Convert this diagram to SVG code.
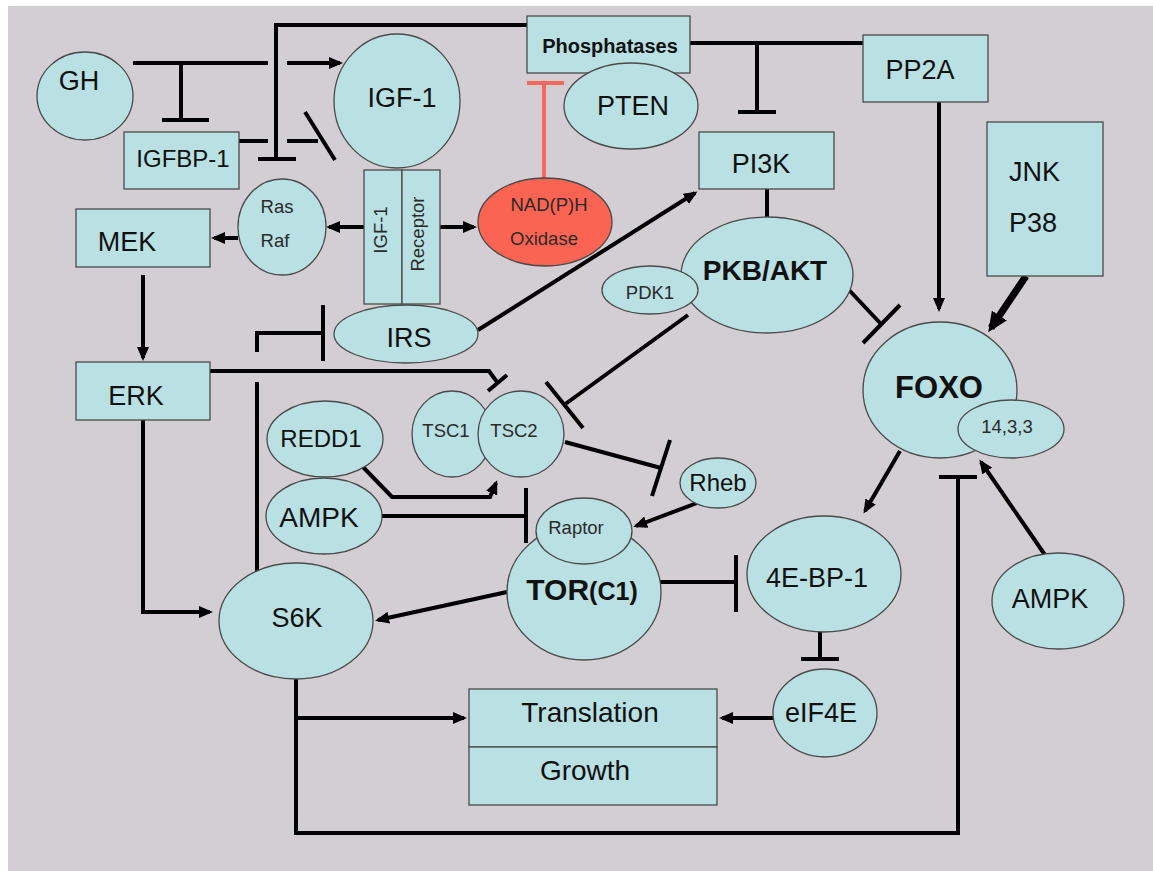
<svg xmlns="http://www.w3.org/2000/svg" width="1153" height="871" viewBox="0 0 1153 871">
<style>
.n{fill:#b9e0e3;stroke:#4a4a4a;stroke-width:1.3}
.red{fill:#fb6352;stroke:#4a4a4a;stroke-width:1.3}
.t{font-family:"Liberation Sans",Arial,sans-serif;fill:#111;text-anchor:middle}
.s{font-family:"Liberation Sans",Arial,sans-serif;fill:#2a2a2a;text-anchor:middle;font-size:18.5px}
.b{font-weight:bold}
.c{fill:none;stroke:#000;stroke-width:4}
.cr{fill:none;stroke:#f4695c;stroke-width:4}
.a{marker-end:url(#arr)}
</style>
<defs>
<marker id="arr" viewBox="0 0 14 12" refX="11" refY="6" markerWidth="14" markerHeight="12" markerUnits="userSpaceOnUse" orient="auto"><path d="M0,0 L14,6 L0,12 z" fill="#000"/></marker>
<marker id="arrBig" viewBox="0 0 20 18" refX="15" refY="9" markerWidth="20" markerHeight="18" markerUnits="userSpaceOnUse" orient="auto"><path d="M0,0 L20,9 L0,18 z" fill="#000"/></marker>
</defs>
<rect x="0" y="0" width="1153" height="871" fill="#fff"/>
<rect x="8" y="6" width="1145" height="865" fill="#d3ced3"/>

<g id="connectors">
<line class="c" x1="133" y1="63" x2="268" y2="63"/>
<line class="c a" x1="287" y1="63" x2="340" y2="63"/>
<line class="c" x1="181" y1="63" x2="181" y2="120"/>
<line class="c" x1="162" y1="120" x2="209" y2="120"/>
<line class="c" x1="239" y1="141" x2="268" y2="141"/>
<line class="c" x1="287" y1="141" x2="318" y2="141"/>
<line class="c" x1="305" y1="112" x2="335" y2="160"/>
<path class="c" d="M527,25 H276 V159"/>
<line class="c" x1="258" y1="159" x2="296" y2="159"/>
<line class="cr" x1="544" y1="178" x2="544" y2="83"/>
<line class="cr" x1="527" y1="83" x2="564" y2="83"/>
<line class="c a" x1="364" y1="227" x2="329" y2="227"/>
<line class="c a" x1="440" y1="227" x2="474" y2="227"/>
<line class="c a" x1="238" y1="238" x2="214" y2="238"/>
<line class="c a" x1="143" y1="275" x2="143" y2="358"/>
<path class="c" d="M210,371 H489 L497,382"/>
<line class="c" x1="488" y1="391" x2="507" y2="375"/>
<line class="c" x1="257" y1="573" x2="257" y2="382"/>
<path class="c" d="M257,352 V333 H323"/>
<line class="c" x1="323" y1="305" x2="323" y2="361"/>
<line class="c a" x1="478" y1="330" x2="695" y2="193"/>
<line class="c" x1="690" y1="43" x2="863" y2="43"/>
<line class="c" x1="757" y1="43" x2="757" y2="112"/>
<line class="c" x1="738" y1="112" x2="776" y2="112"/>
<line class="c a" x1="939" y1="102" x2="939" y2="309"/>
<line class="c" style="stroke-width:7;marker-end:url(#arrBig)" x1="1026" y1="276" x2="991" y2="328"/>
<line class="c" x1="767" y1="189" x2="767" y2="218"/>
<line class="c" x1="849" y1="290" x2="881" y2="324"/>
<line class="c" x1="863" y1="343" x2="900" y2="305"/>
<line class="c" x1="688" y1="315" x2="564" y2="405"/>
<line class="c" x1="546" y1="382" x2="583" y2="428"/>
<line class="c" x1="565" y1="442" x2="661" y2="468"/>
<line class="c" x1="670" y1="440" x2="652" y2="496"/>
<line class="c a" x1="697" y1="503" x2="636" y2="526"/>
<path class="c a" d="M363,467 L392,497 H490 L496,483"/>
<line class="c" x1="382" y1="516" x2="526" y2="516"/>
<line class="c" x1="526" y1="488" x2="526" y2="543"/>
<line class="c" x1="660" y1="582" x2="736" y2="582"/>
<line class="c" x1="736" y1="555" x2="736" y2="612"/>
<line class="c a" x1="507" y1="592" x2="378" y2="620"/>
<path class="c a" d="M143,420 V612 H210"/>
<line class="c a" x1="296" y1="718" x2="464" y2="718"/>
<path class="c" d="M296,679 V833 H958 V477"/>
<line class="c" x1="939" y1="477" x2="977" y2="477"/>
<line class="c" x1="820" y1="632" x2="820" y2="659"/>
<line class="c" x1="801" y1="659" x2="839" y2="659"/>
<line class="c a" x1="773" y1="718" x2="722" y2="718"/>
<line class="c a" x1="900" y1="451" x2="865" y2="511"/>
<line class="c a" x1="1045" y1="555" x2="981" y2="462"/>
</g>

<g id="GH"><ellipse class="n" cx="85" cy="96" rx="48" ry="44"/><text class="t" x="79" y="90" font-size="27">GH</text></g>
<g id="IGFBP-1"><rect class="n" x="124" y="132" width="115" height="57"/><text class="t" x="183" y="167" font-size="24">IGFBP-1</text></g>
<g id="IGF-1"><ellipse class="n" cx="397" cy="101" rx="63" ry="67"/><text class="t" x="402" y="107" font-size="27">IGF-1</text></g>
<g id="Phosphatases"><rect class="n" x="527" y="16" width="163" height="57"/><text class="t b" x="610" y="53" font-size="20">Phosphatases</text></g>
<g id="PTEN"><ellipse class="n" cx="631" cy="106" rx="67" ry="43"/><text class="t" x="633" y="115" font-size="27">PTEN</text></g>
<g id="NADPH-Oxidase"><ellipse class="red" cx="545" cy="222" rx="67" ry="44"/><text class="s" x="549" y="211" font-size="19">NAD(P)H</text><text class="s" x="544" y="245" font-size="19">Oxidase</text></g>
<g id="IGF-1-Receptor"><rect class="n" x="364" y="170" width="38" height="134"/><rect class="n" x="402" y="170" width="38" height="134"/><text class="s" transform="translate(387,230) rotate(-90)">IGF-1</text><text class="s" transform="translate(424,234) rotate(-90)">Receptor</text></g>
<g id="RasRaf"><ellipse class="n" cx="282" cy="227" rx="44" ry="48"/><text class="s" x="277" y="213" font-size="19">Ras</text><text class="s" x="275" y="247" font-size="19">Raf</text></g>
<g id="MEK"><rect class="n" x="76" y="209" width="134" height="58"/><text class="t" x="127" y="251" font-size="27">MEK</text></g>
<g id="ERK"><rect class="n" x="76" y="362" width="134" height="58"/><text class="t" x="136" y="405" font-size="27">ERK</text></g>
<g id="IRS"><ellipse class="n" cx="406" cy="334" rx="72" ry="29"/><text class="t" x="409" y="347" font-size="27">IRS</text></g>
<g id="PI3K"><rect class="n" x="699" y="132" width="135" height="57"/><text class="t" x="761" y="173" font-size="27">PI3K</text></g>
<g id="PP2A"><rect class="n" x="863" y="35" width="125" height="67"/><text class="t" x="920" y="79" font-size="27">PP2A</text></g>
<g id="JNK-P38"><rect class="n" x="987" y="122" width="116" height="154"/><text class="t" x="1009" y="181" font-size="27" style="text-anchor:start">JNK</text><text class="t" x="1009" y="232" font-size="27" style="text-anchor:start">P38</text></g>
<g id="PKB-AKT"><ellipse class="n" cx="767" cy="275" rx="86" ry="58"/><text class="t b" x="765" y="280" font-size="28">PKB/AKT</text></g>
<g id="PDK1"><ellipse class="n" cx="650" cy="290" rx="48" ry="24"/><text class="s" x="650" y="299">PDK1</text></g>
<g id="FOXO"><ellipse class="n" cx="940" cy="390" rx="77" ry="68"/><text class="t b" x="939" y="398" font-size="31">FOXO</text></g>
<g id="p14-3-3"><ellipse class="n" cx="1011" cy="429" rx="53" ry="29"/><text class="s" x="1007" y="433">14,3,3</text></g>
<g id="TSC1"><ellipse class="n" cx="452" cy="434" rx="40" ry="43"/><text class="s" x="446" y="437">TSC1</text></g>
<g id="TSC2"><ellipse class="n" cx="521" cy="434" rx="43" ry="43"/><text class="s" x="514" y="437">TSC2</text></g>
<g id="REDD1"><ellipse class="n" cx="325" cy="439" rx="58" ry="38"/><text class="t" x="321" y="447" font-size="24">REDD1</text></g>
<g id="AMPK-left"><ellipse class="n" cx="324" cy="516" rx="58" ry="38"/><text class="t" x="319" y="527" font-size="28">AMPK</text></g>
<g id="Rheb"><ellipse class="n" cx="718" cy="483" rx="38" ry="25"/><text class="t" x="718" y="491" font-size="24">Rheb</text></g>
<g id="TOR"><ellipse class="n" cx="584" cy="592" rx="77" ry="68"/><text class="t b" x="582" y="600"><tspan font-size="30">TOR</tspan><tspan font-size="25">(C1)</tspan></text></g>
<g id="Raptor"><ellipse class="n" cx="584" cy="531" rx="48" ry="33"/><text class="s" x="576" y="534">Raptor</text></g>
<g id="4E-BP-1"><ellipse class="n" cx="824" cy="574" rx="77" ry="58"/><text class="t" x="817" y="587" font-size="27">4E-BP-1</text></g>
<g id="AMPK-right"><ellipse class="n" cx="1058" cy="601" rx="66" ry="48"/><text class="t" x="1050" y="608" font-size="27">AMPK</text></g>
<g id="S6K"><ellipse class="n" cx="296" cy="621" rx="77" ry="58"/><text class="t" x="297" y="627" font-size="27">S6K</text></g>
<g id="Translation-Growth"><rect class="n" x="469" y="689" width="248" height="58"/><rect class="n" x="469" y="747" width="248" height="58"/><text class="t" x="590" y="722" font-size="28">Translation</text><text class="t" x="585" y="780" font-size="28">Growth</text></g>
<g id="eIF4E"><ellipse class="n" cx="825" cy="713" rx="52" ry="44"/><text class="t" x="821" y="722" font-size="27">eIF4E</text></g>
</svg>
